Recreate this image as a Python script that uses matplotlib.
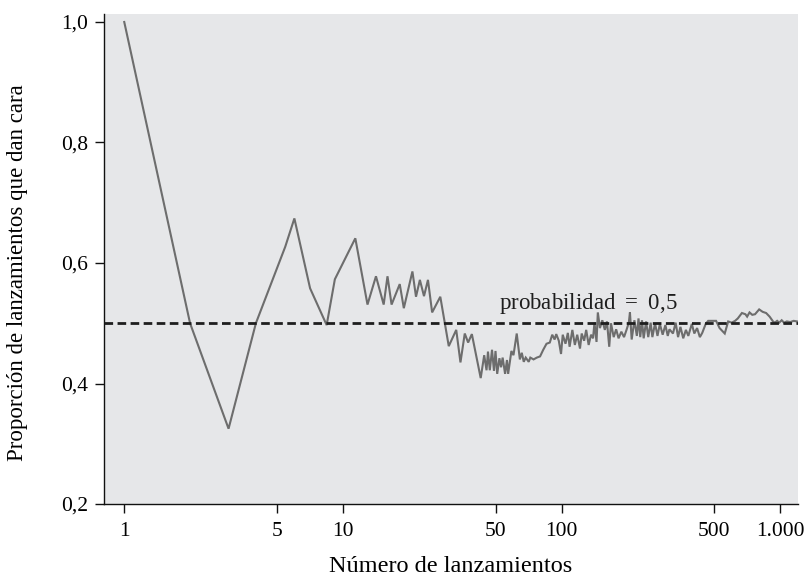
import matplotlib
matplotlib.use("Agg")
import matplotlib.pyplot as plt
from matplotlib.ticker import FixedLocator, NullLocator, FixedFormatter

plt.rcParams["font.family"] = ["Liberation Serif", "DejaVu Serif"]
plt.rcParams["mathtext.fontset"] = "custom"
plt.rcParams["mathtext.rm"] = "Liberation Serif"

# Running proportion of heads against the number of tosses
tosses = [1, 2, 3, 4, 5.45, 6, 7.08, 8.43, 9.19, 11.4,
          12.96, 14.17, 15.37, 16.0, 16.7, 18.2, 19.0, 20.8, 21.6, 22.5,
          23.5, 24.5, 25.6, 27.9, 30.5, 33.0, 34.5, 36.1, 37.4, 38.9,
          42.7, 44.3, 45.4, 46.1, 47.0, 48.1, 49.1, 49.9, 50.8, 52.0,
          52.9, 53.8, 55.2, 56.3, 57.0, 59.0, 60.3, 62.4, 64.5, 65.8,
          67.2, 68.6, 70.8, 72.0, 74.5, 77.1, 79.8, 82.5, 85.4, 88.4,
          90.7, 93.0, 94.6, 97.2, 99.5, 101.3, 104.3, 106.9, 108.9, 112.1,
          115.1, 118.0, 121.5, 123.7, 126.9, 129.7, 133.1, 136.5, 139.4, 141.5,
          144.6, 146.6, 149.9, 153.7, 157.8, 161.4, 165.3, 168.4, 173.3, 177.8,
          182.4, 187.8, 193.2, 198.3, 203.2, 205.6, 209.4, 215.5, 221.1, 225.0,
          229.2, 233.4, 237.6, 243.8, 249.3, 255.7, 260.4, 267.8, 274.8, 281.8,
          290.2, 298.6, 306.2, 311.7, 323.5, 332.7, 341.3, 349.9, 360.4, 370.7,
          380.3, 394.5, 405.0, 417.0, 429.4, 440.3, 456.7, 468.9, 509.4, 528.4,
          558.0, 578.6, 600.2, 622.4, 640.2, 668.7, 693.6, 706.3, 724.4, 745.7,
          767.7, 801.8, 831.5, 862.9, 895.2, 927.7, 945.3, 969.0, 990.2, 1016.6,
          1042.6, 1073.1, 1112.3, 1153.1, 1196.7]
proportion = [1.0, 0.5, 0.325, 0.5, 0.627, 0.674, 0.558, 0.497, 0.573, 0.641,
              0.531, 0.578, 0.531, 0.578, 0.531, 0.565, 0.525, 0.586, 0.544, 0.572,
              0.545, 0.572, 0.518, 0.544, 0.462, 0.489, 0.435, 0.483, 0.468, 0.482,
              0.409, 0.447, 0.422, 0.453, 0.422, 0.456, 0.421, 0.454, 0.416, 0.442,
              0.427, 0.443, 0.416, 0.439, 0.416, 0.454, 0.447, 0.483, 0.440, 0.451,
              0.436, 0.443, 0.436, 0.443, 0.440, 0.443, 0.445, 0.456, 0.466, 0.468,
              0.481, 0.473, 0.482, 0.471, 0.449, 0.481, 0.466, 0.484, 0.461, 0.489,
              0.464, 0.481, 0.458, 0.483, 0.471, 0.489, 0.464, 0.481, 0.475, 0.501,
              0.469, 0.518, 0.492, 0.505, 0.489, 0.503, 0.461, 0.500, 0.477, 0.490,
              0.475, 0.486, 0.477, 0.489, 0.501, 0.518, 0.473, 0.505, 0.479, 0.508,
              0.477, 0.505, 0.475, 0.503, 0.477, 0.501, 0.477, 0.500, 0.479, 0.499,
              0.481, 0.497, 0.479, 0.490, 0.483, 0.501, 0.477, 0.494, 0.475, 0.489,
              0.479, 0.499, 0.483, 0.492, 0.477, 0.484, 0.499, 0.504, 0.504, 0.492,
              0.483, 0.503, 0.501, 0.504, 0.508, 0.517, 0.515, 0.511, 0.518, 0.514,
              0.515, 0.523, 0.519, 0.517, 0.511, 0.503, 0.501, 0.504, 0.501, 0.505,
              0.501, 0.503, 0.502, 0.504, 0.503]

probability = 0.5
x_ticks = [1, 5, 10, 50, 100, 500, 1000]
x_tick_labels = ["1", "5", "10", "50", "100", "500", "1.000"]
y_ticks = [0.2, 0.4, 0.6, 0.8, 1.0]
y_tick_labels = ["0,2", "0,4", "0,6", "0,8", "1,0"]

fig = plt.figure(figsize=(8.05, 5.80), dpi=100)
ax = fig.add_axes([0.1292, 0.131, 0.8621, 0.8449])
ax.set_facecolor("#e6e7e9")

ax.plot(tosses, proportion, color="#6d6d6d", lw=1.5, solid_joinstyle="miter", zorder=3)
ax.axhline(probability, color="#1e1e1e", lw=2.0, dashes=(3.1, 1.6), zorder=4)
ax.text(51.8, 0.512, "probabilidad $=$ 0,5", fontsize=16.5, color="#1e1e1e",
        ha="left", va="bottom", zorder=5)

ax.set_xscale("log")
ax.set_xlim(0.808, 1207)
ax.set_ylim(0.2, 1.0133)

ax.xaxis.set_major_locator(FixedLocator(x_ticks))
ax.xaxis.set_major_formatter(FixedFormatter(x_tick_labels))
ax.xaxis.set_minor_locator(NullLocator())
ax.set_yticks(y_ticks)
ax.set_yticklabels(y_tick_labels)

for side in ("top", "right"):
    ax.spines[side].set_visible(False)
for side in ("left", "bottom"):
    ax.spines[side].set_linewidth(1.0)
    ax.spines[side].set_color("#111111")

ax.tick_params(axis="both", which="major", labelsize=15.5, color="#111111",
               width=1.0, length=6.5, direction="out")
ax.tick_params(axis="x", pad=6.5)
ax.tick_params(axis="y", pad=5)

ax.set_xlabel("Número de lanzamientos", fontsize=17.5, labelpad=11)
ax.set_ylabel("Proporción de lanzamientos que dan cara", fontsize=16.5)
ax.yaxis.set_label_coords(-0.11, 0.473)

fig.savefig("out.png", dpi=100)
